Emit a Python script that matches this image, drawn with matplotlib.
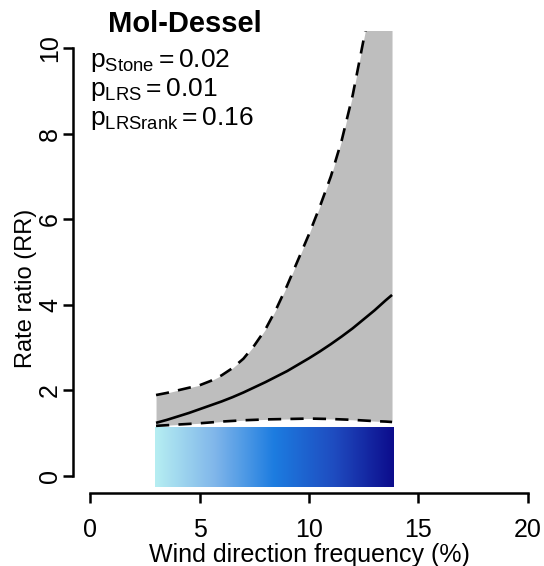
import numpy as np
import matplotlib
matplotlib.use("Agg")
import matplotlib.pyplot as plt
from matplotlib.colors import LinearSegmentedColormap

plt.rcParams['font.family'] = ['Liberation Sans', 'DejaVu Sans']
plt.rcParams['mathtext.fontset'] = 'custom'
plt.rcParams['mathtext.rm'] = 'Liberation Sans'
plt.rcParams['mathtext.it'] = 'Liberation Sans'
plt.rcParams['mathtext.bf'] = 'Liberation Sans:bold'

# data
freq = [3.0, 3.5, 4.0, 4.5, 5.0, 5.5, 6.0, 6.5, 7.0, 7.5, 8.0, 8.5,
        9.0, 9.5, 10.0, 10.5, 11.0, 11.5, 12.0, 12.5, 13.0, 13.5, 13.8]
rr_mid = [1.24, 1.31, 1.39, 1.47, 1.56, 1.65, 1.74, 1.84, 1.95, 2.07, 2.19, 2.32,
          2.45, 2.60, 2.75, 2.91, 3.08, 3.26, 3.45, 3.66, 3.87, 4.10, 4.23]
rr_upper = [1.89, 1.94, 2.00, 2.06, 2.12, 2.22, 2.35, 2.52, 2.74, 3.05, 3.42, 3.90,
            4.45, 5.05, 5.65, 6.30, 7.00, 7.85, 8.90, 10.20, 11.50, 12.90, 13.70]
rr_lower = [1.17, 1.185, 1.20, 1.215, 1.23, 1.25, 1.27, 1.285, 1.30, 1.31, 1.32, 1.325,
            1.33, 1.335, 1.34, 1.335, 1.33, 1.32, 1.31, 1.295, 1.28, 1.27, 1.26]
x_ticks = [0, 5, 10, 15, 20]
y_ticks = [0, 2, 4, 6, 8, 10]
grad_colors = ["#b6eef2", "#80b6ea", "#1c7ce0", "#1f4cc0", "#0c0c8c"]
title = "Mol-Dessel"
p_labels = [r"$\mathregular{p_{Stone}=0.02}$",
            r"$\mathregular{p_{LRS}=0.01}$",
            r"$\mathregular{p_{LRSrank}=0.16}$"]

W, H = 544, 566
fig = plt.figure(figsize=(W / 100, H / 100), dpi=100)
ax = fig.add_axes([73 / W, 1 - 493 / H, (545 - 73) / W, (493 - 31) / H])
ax.set_xlim(-0.8, 20.8)
ax.set_ylim(-0.4, 10.4)

# gradient bar
cmap = LinearSegmentedColormap.from_list("wind", grad_colors)
grad = np.linspace(0, 1, 256).reshape(1, -1)
ax.imshow(grad, extent=[2.93, 13.85, -0.25, 1.15], aspect='auto', cmap=cmap,
          interpolation='bilinear', zorder=1)

# confidence band
ax.fill_between(freq, rr_lower, rr_upper, color="#bebebe", linewidth=0, zorder=2)
ax.plot(freq, rr_mid, color='black', lw=1.9, zorder=3, solid_capstyle='butt')
ax.plot(freq, rr_upper, color='black', lw=1.9, ls=(0, (5, 3.5)), zorder=3)
ax.plot(freq, rr_lower, color='black', lw=1.9, ls=(0, (5, 3.5)), zorder=3)

for s in ['top', 'right']:
    ax.spines[s].set_visible(False)
ax.spines['left'].set_bounds(0, 10)
ax.spines['bottom'].set_bounds(0, 20)
ax.spines['left'].set_linewidth(1.8)
ax.spines['bottom'].set_linewidth(1.8)
ax.set_xticks(x_ticks)
ax.set_yticks(y_ticks)
ax.set_xticklabels([str(v) for v in x_ticks], fontsize=18)
ax.set_yticklabels([str(v) for v in y_ticks], fontsize=18, rotation=90, va='center')
ax.tick_params(axis='both', length=7, width=1.8)
ax.tick_params(axis='x', pad=11)
ax.tick_params(axis='y', pad=1)
ax.patch.set_visible(False)

fig.text(309 / W, 1 - 562 / H, "Wind direction frequency (%)", fontsize=18,
         ha='center', va='baseline')
fig.text(26 / W, 1 - 288 / H, "Rate ratio (RR)", fontsize=17, rotation=90,
         ha='center', va='center')
fig.text(185 / W, 1 - 32 / H, title, fontsize=21, fontweight='bold',
         ha='center', va='baseline')
for i, lab in enumerate(p_labels):
    fig.text(90 / W, 1 - (67 + 29 * i) / H, lab, fontsize=19,
             ha='left', va='baseline')

fig.savefig("out.png", dpi=100)
